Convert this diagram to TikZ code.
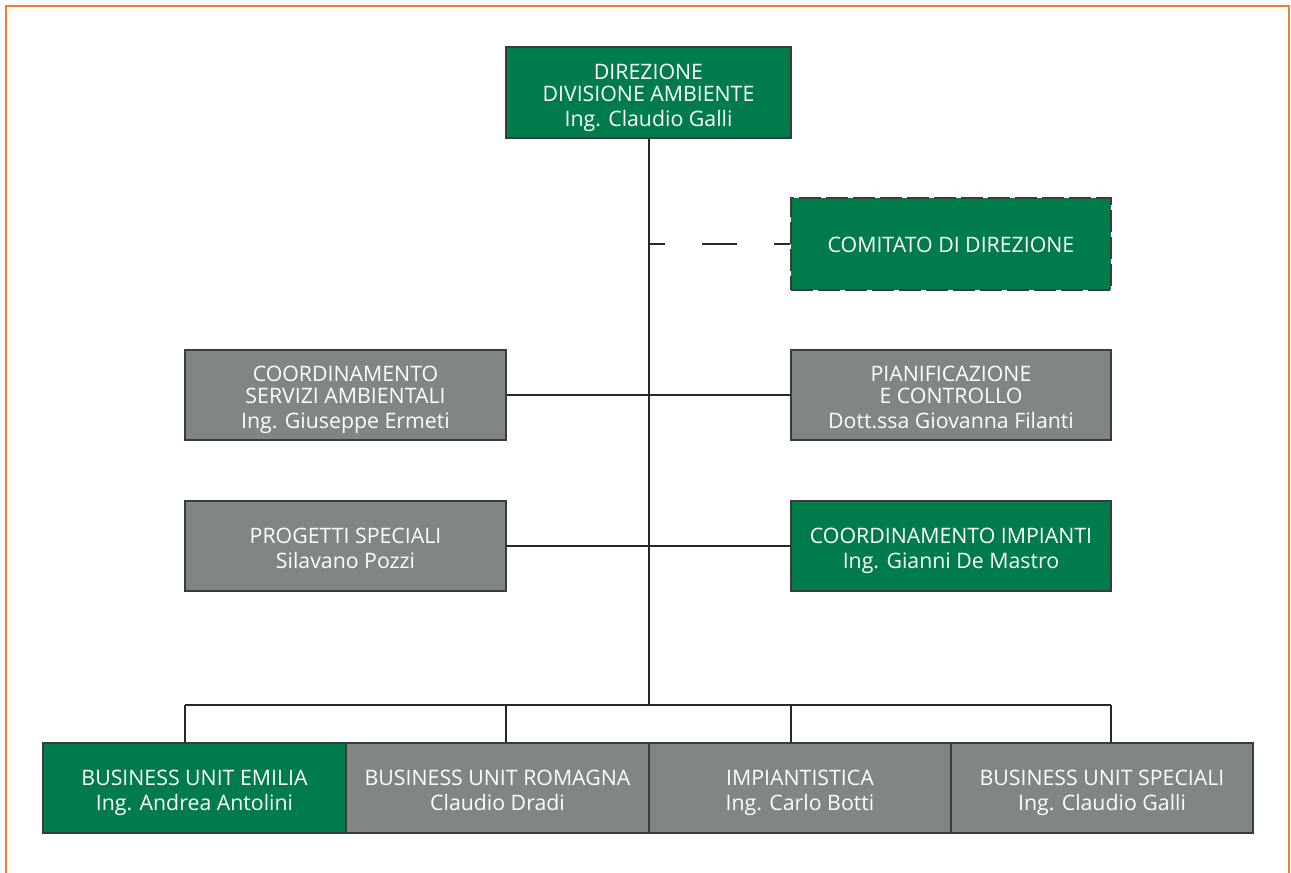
\documentclass[tikz,border=0pt]{standalone}
\usepackage{fontspec}
\setmainfont{Open Sans}
\definecolor{hgreen}{RGB}{0,123,75}
\definecolor{hgray}{RGB}{127,134,132}
\definecolor{hborder}{RGB}{58,60,58}
\definecolor{hline}{RGB}{40,40,40}
\definecolor{horange}{RGB}{238,128,52}
\newcommand{\topstrut}{\rule{0pt}{25.5pt}}
\newcommand{\botstrut}{\rule[-5.5pt]{0pt}{5.5pt}}
\begin{document}
\begin{tikzpicture}[x=1pt,y=-1pt]
\tikzset{
  box/.style={draw=hborder, line width=1.4pt, text=white, align=center,
    font=\fontsize{21.3}{22}\selectfont, inner sep=0pt, minimum height=90pt},
  greenbox/.style={box, fill=hgreen},
  graybox/.style={box, fill=hgray},
  conn/.style={draw=hline, line width=1.2pt},
  dashconn/.style={draw=hline, line width=1.2pt, dash pattern=on 35pt off 37pt, dash phase=19pt},
  frame/.style={draw=horange, line width=2pt}
}
\useasboundingbox (0,0) rectangle (1291,873);
\draw[frame] (6,880) -- (6,6) -- (1289,6) -- (1289,880);

\node[greenbox, minimum width=285pt, minimum height=91pt] (dir) at (648.5,92.5)
  {\topstrut DIREZIONE\\DIVISIONE AMBIENTE\\[3pt]Ing. Claudio Galli\botstrut};
\node[greenbox, minimum width=320pt, minimum height=92pt, dash pattern=on 22pt off 5pt] (com) at (951,244)
  {\rule{0pt}{19pt}COMITATO DI DIREZIONE\rule[-2pt]{0pt}{2pt}};
\node[graybox, minimum width=321pt] (csa) at (345.5,395)
  {\topstrut COORDINAMENTO\\SERVIZI AMBIENTALI\\[3pt]Ing. Giuseppe Ermeti\botstrut};
\node[graybox, minimum width=320pt] (pc) at (951,395)
  {\topstrut PIANIFICAZIONE\\E CONTROLLO\\[3pt]Dott.ssa Giovanna Filanti\botstrut};
\node[graybox, minimum width=321pt] (ps) at (345.5,546)
  {\topstrut PROGETTI SPECIALI\\[3pt]Silavano Pozzi\botstrut};
\node[greenbox, minimum width=320pt] (ci) at (951,546)
  {\topstrut COORDINAMENTO IMPIANTI\\[3pt]Ing. Gianni De Mastro\botstrut};

\node[greenbox, minimum width=303pt] (bue) at (194.5,788)
  {\topstrut BUSINESS UNIT EMILIA\\[3pt]Ing. Andrea Antolini\botstrut};
\node[graybox, minimum width=303pt] (bur) at (497.5,788)
  {\topstrut BUSINESS UNIT ROMAGNA\\[3pt]Claudio Dradi\botstrut};
\node[graybox, minimum width=302pt] (imp) at (800,788)
  {\topstrut IMPIANTISTICA\\[3pt]Ing. Carlo Botti\botstrut};
\node[graybox, minimum width=302pt] (bus) at (1102,788)
  {\topstrut BUSINESS UNIT SPECIALI\\[3pt]Ing. Claudio Galli\botstrut};

\coordinate (bushub) at (649,705);
\coordinate (d1) at (185,705);
\coordinate (d2) at (506,705);
\coordinate (d3) at (791,705);
\coordinate (d4) at (1111,705);
\coordinate (tcom) at (649,244);

\draw[conn] (dir.south -| bushub) -- (bushub);
\draw[dashconn] (tcom) -- (com.west);
\draw[conn] (csa.east) -- (pc.west);
\draw[conn] (ps.east) -- (ci.west);
\draw[conn] (d1) -- (d4);
\draw[conn] (d1) -- (d1 |- bue.north);
\draw[conn] (d2) -- (d2 |- bur.north);
\draw[conn] (d3) -- (d3 |- imp.north);
\draw[conn] (d4) -- (d4 |- bus.north);
\end{tikzpicture}
\end{document}
